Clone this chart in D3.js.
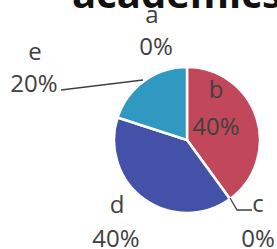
<!DOCTYPE html>
<html>
<head>
<meta charset="UTF-8">
<script src="https://cdn.jsdelivr.net/npm/d3@7"></script>
<style>
  body { margin: 0; background: #fff; }
  text { font-family: "Open Sans", sans-serif; }
</style>
</head>
<body>
<svg width="277" height="249"></svg>
<script>
// data
var categories = ["a", "b", "c", "d", "e"];
var values = [0, 40, 0, 40, 20];
var colors = ["#7f7f7f", "#c1485a", "#8fb24f", "#4451a8", "#2f99c2"];

var svg = d3.select("svg");
var cx = 187, cy = 140, r = 73;

var pie = d3.pie().sort(null).value(function(d) { return d; });
var arc = d3.arc().innerRadius(0).outerRadius(r);
var arcs = pie(values);

var g = svg.append("g").attr("transform", "translate(" + cx + "," + cy + ")");

g.selectAll("path")
    .data(arcs)
    .enter().append("path")
    .attr("d", arc)
    .attr("fill", function(d, i) { return colors[i]; })
    .attr("stroke", "#fff")
    .attr("stroke-width", 2.5)
    .attr("stroke-linejoin", "round");

// title (cut off at the top)
svg.append("text")
    .attr("x", 72).attr("y", 8)
    .attr("font-size", 40)
    .attr("font-weight", "bold")
    .attr("fill", "#111")
    .text("academics");

// label layout: name position / percent position (offsets from pie centre)
var labelPos = [
    {n: [-35, -117], p: [-31, -85]},
    {n: [29, -42],  p: [29, -5]},
    {n: [71, 72],   p: [71, 107]},
    {n: [-70, 73],  p: [-71, 107]},
    {n: [-152, -80], p: [-153, -48]}
];

var fmt = d3.format(".0%");
var total = d3.sum(values);

categories.forEach(function(c, i) {
    var lp = labelPos[i];
    g.append("text")
        .attr("x", lp.n[0]).attr("y", lp.n[1])
        .attr("text-anchor", "middle")
        .attr("font-size", 24)
        .attr("fill", "#404040")
        .text(c);
    g.append("text")
        .attr("x", lp.p[0]).attr("y", lp.p[1])
        .attr("text-anchor", "middle")
        .attr("font-size", 24)
        .attr("fill", "#404040")
        .text(fmt(values[i] / total));
});

// leader lines
var line = d3.line();
g.append("path")
    .attr("d", line([[-126, -50], [-44, -60]]))
    .attr("fill", "none").attr("stroke", "#404040").attr("stroke-width", 1.3);
g.append("path")
    .attr("d", line([[43, 58], [50, 70], [65, 70]]))
    .attr("fill", "none").attr("stroke", "#404040").attr("stroke-width", 1.3);
</script>
</body>
</html>
